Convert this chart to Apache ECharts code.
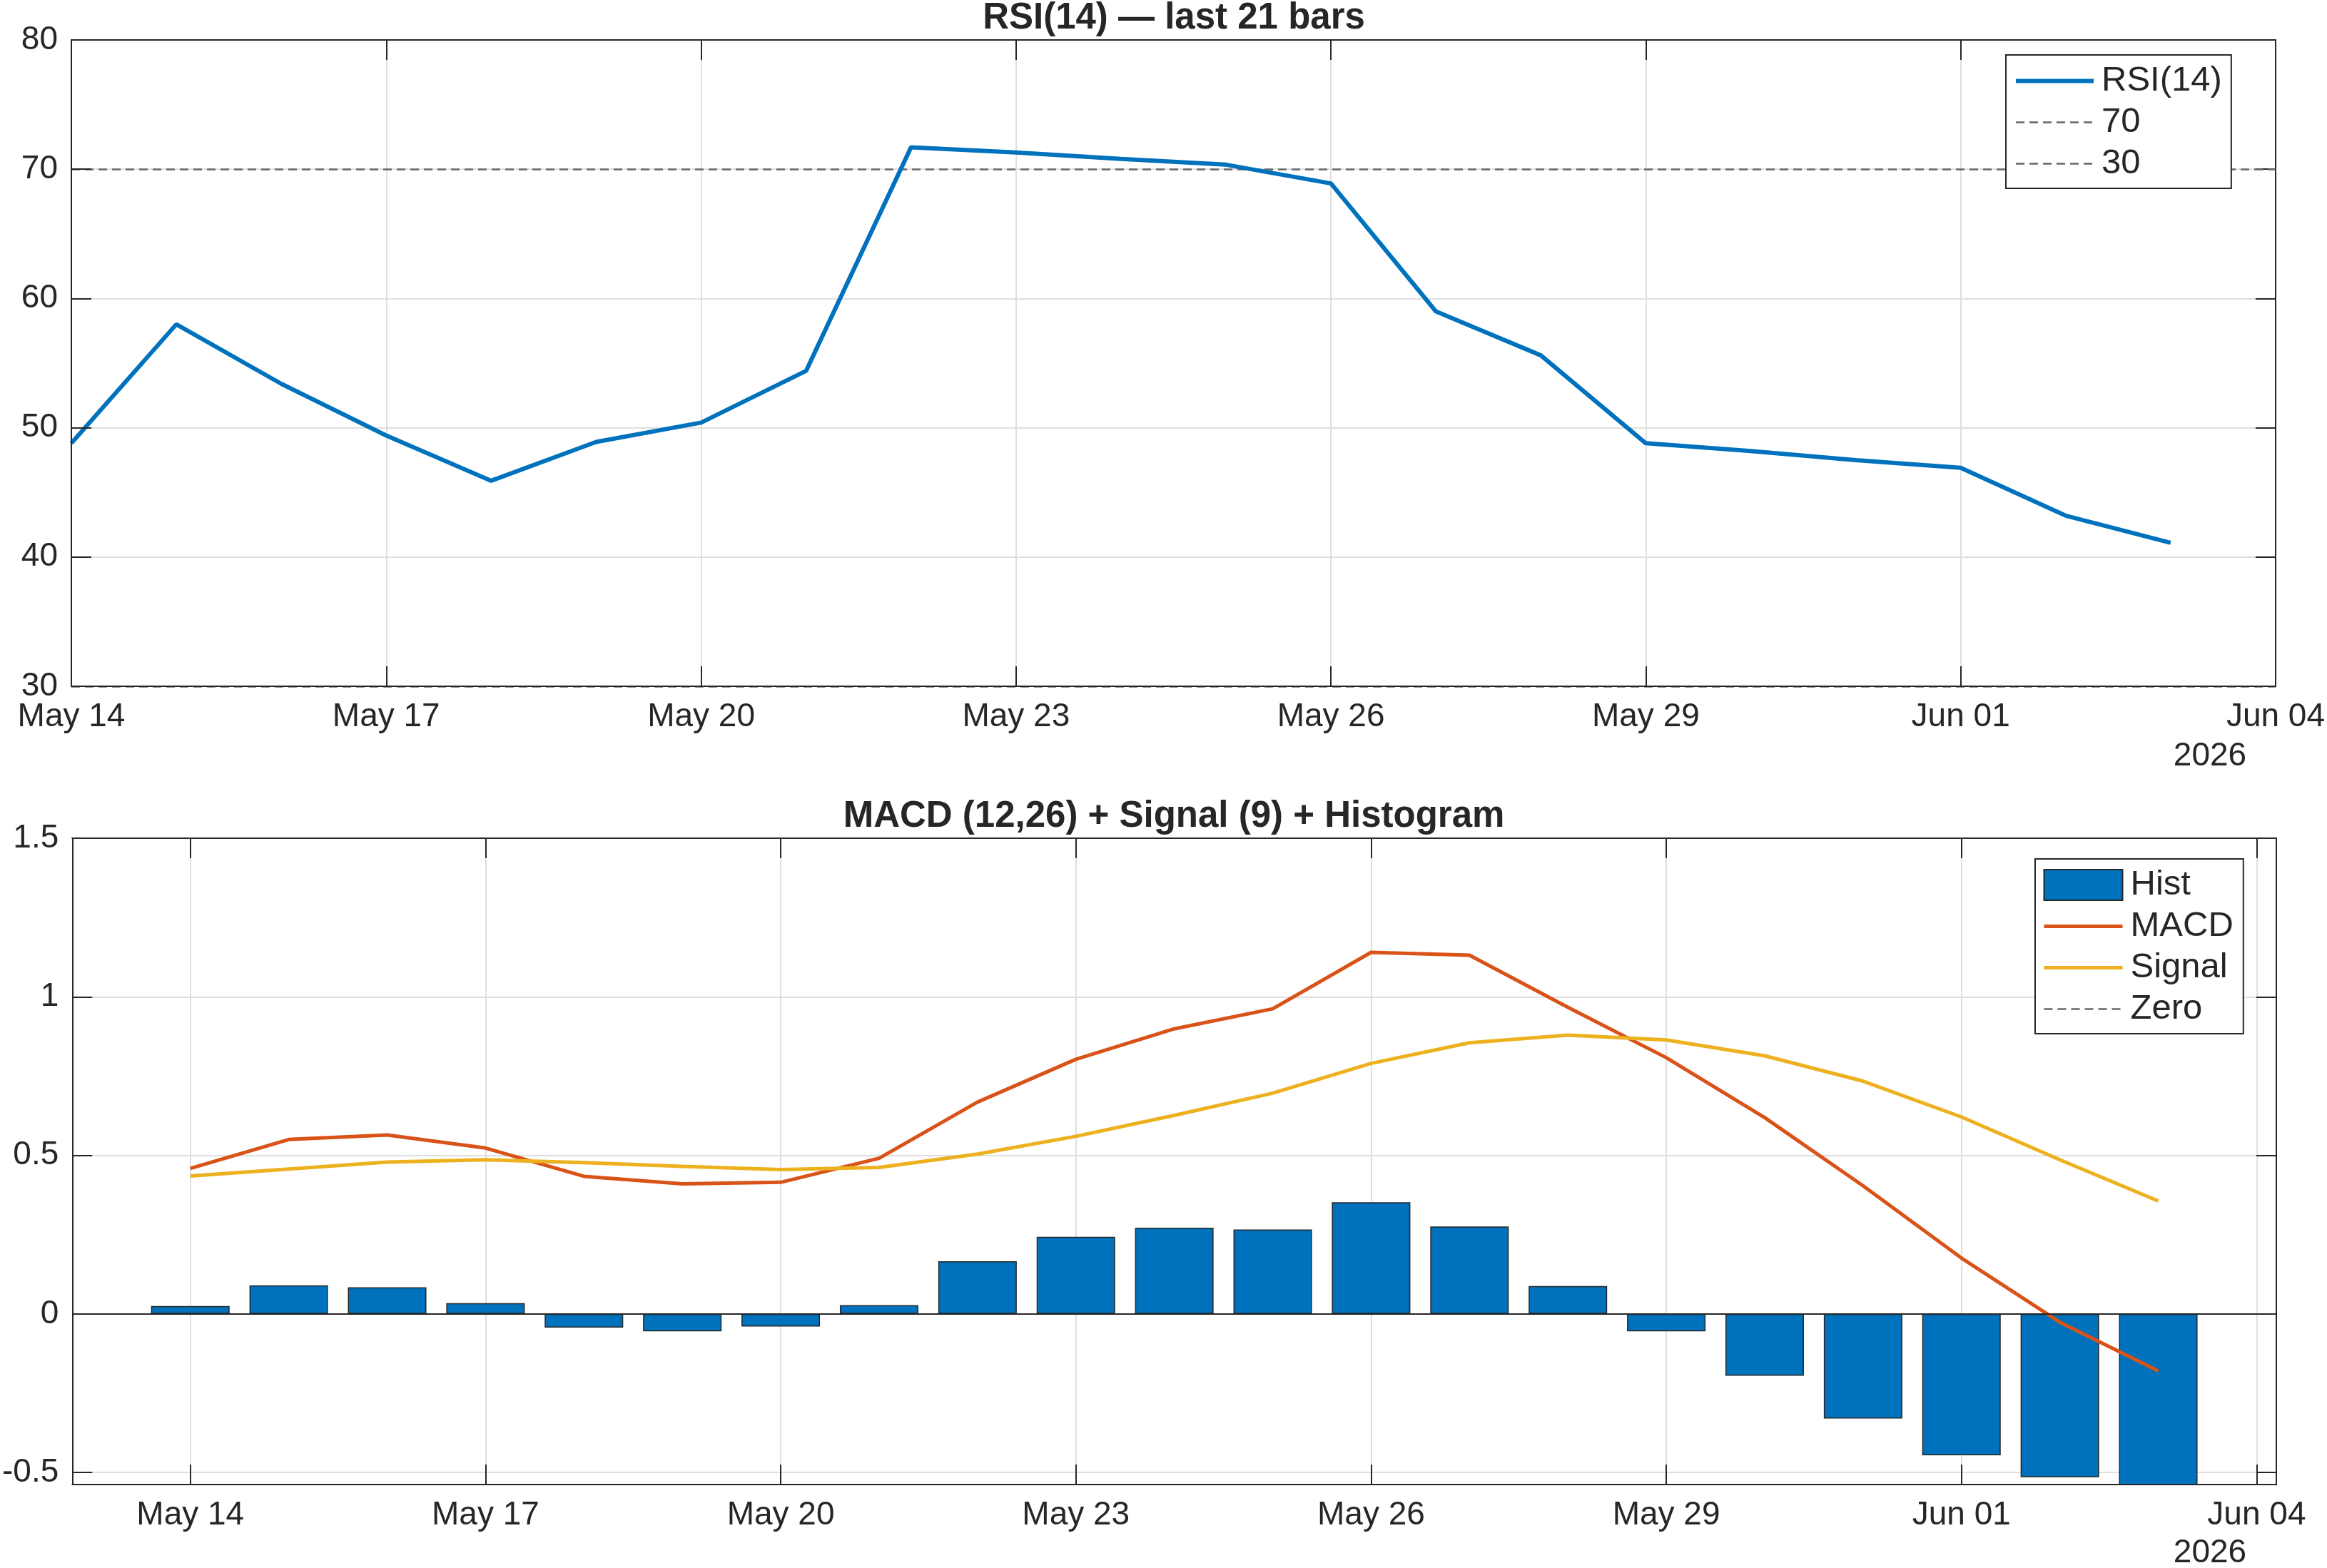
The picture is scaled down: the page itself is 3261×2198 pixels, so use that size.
<!DOCTYPE html>
<html>
<head>
<meta charset="utf-8">
<script src="https://cdn.jsdelivr.net/npm/echarts@6/dist/echarts.min.js"></script>
<style>
html, body { margin: 0; padding: 0; background: #fff; }
#chart { width: 3261px; height: 2198px; }
</style>
</head>
<body>
<div id="chart"></div>
<script>
// data (one bar per day, May 14 .. Jun 03 2026)
const dates = ['May 14', 'May 15', 'May 16', 'May 17', 'May 18', 'May 19', 'May 20',
  'May 21', 'May 22', 'May 23', 'May 24', 'May 25', 'May 26', 'May 27', 'May 28',
  'May 29', 'May 30', 'May 31', 'Jun 01', 'Jun 02', 'Jun 03'];
const rsi = [48.8, 58.0, 53.4, 49.4, 45.9, 48.9, 50.4, 54.4, 71.7, 71.3, 70.8,
  70.35, 68.9, 59.0, 55.6, 48.8, 48.2, 47.5, 46.9, 43.2, 41.1];
const rsiLevels = [70, 30];
const macd = [0.459, 0.550, 0.564, 0.523, 0.434, 0.410, 0.415, 0.491, 0.668, 0.803,
  0.899, 0.962, 1.140, 1.131, 0.967, 0.808, 0.619, 0.404, 0.176, -0.026, -0.180];
const signal = [0.435, 0.457, 0.479, 0.486, 0.477, 0.465, 0.455, 0.462, 0.504, 0.560,
  0.626, 0.696, 0.790, 0.855, 0.879, 0.864, 0.814, 0.734, 0.621, 0.486, 0.356];
const hist = [0.025, 0.090, 0.084, 0.034, -0.043, -0.055, -0.040, 0.028, 0.166, 0.243,
  0.272, 0.266, 0.352, 0.276, 0.088, -0.055, -0.195, -0.330, -0.446, -0.515, -0.545];
const zeroLevel = 0;
const xTickLabels = ['May 14', 'May 17', 'May 20', 'May 23', 'May 26', 'May 29', 'Jun 01', 'Jun 04'];
const yearLabel = '2026';

const FONT = '"Liberation Sans", Arial, Helvetica, sans-serif';
const INK = '#262626';
const GRID = '#dfdfdf';
const DASH = '#666666';
const DASH_TYPE = [12, 7];

function dayLabel(v) {
  const k = v / 3;
  if (Math.abs(k - Math.round(k)) > 1e-6) return '';
  return xTickLabels[Math.round(k)] || '';
}
function halfLabel(v) {
  const k = v / 0.5;
  if (Math.abs(k - Math.round(k)) > 1e-6) return '';
  return String(+v.toFixed(1));
}

let tick = { inside: true, length: 28, lineStyle: { color: INK, width: 2 } };
let label = { fontSize: 46, color: INK, fontFamily: FONT };
let line = { show: true, onZero: false, lineStyle: { color: INK, width: 2 } };

// axis with labels sits on top of the marks, like the matlab box
function mainAxis(extra, fmt, margin) {
  return Object.assign({
    type: 'value', z: 10,
    axisLine: line,
    axisTick: tick,
    axisLabel: Object.assign({ formatter: fmt, margin: margin }, label),
    splitLine: { show: false }
  }, extra);
}
// mirrored axis on top/right carries the ticks and the grid lines
function mirrorAxis(extra) {
  return Object.assign({
    type: 'value', z: 0,
    axisLine: line,
    axisTick: tick,
    axisLabel: { show: false },
    splitLine: { show: true, lineStyle: { color: GRID, width: 2 } }
  }, extra);
}

let topX = { gridIndex: 0, min: 0, max: 21, interval: 3 };
let topY = { gridIndex: 0, min: 30, max: 80, interval: 10 };
let botX = { gridIndex: 1, min: -1.2, max: 21.2, splitNumber: 7 };
let botY = { gridIndex: 1, min: -0.538, max: 1.5, splitNumber: 5 };

let legendBase = {
  orient: 'vertical',
  align: 'left',
  selectedMode: false,
  itemHeight: 43,
  borderColor: INK,
  borderWidth: 2,
  backgroundColor: '#fff',
  textStyle: { fontSize: 49, color: INK, fontFamily: FONT, lineHeight: 43, padding: [0, 0, 0, 6] }
};
function lineItem(name, width) {
  return { name: name, itemStyle: { opacity: 0 }, lineStyle: { width: width } };
}

let option = {
  animation: false,
  backgroundColor: '#fff',
  grid: [
    { left: 100, right: 71, top: 56, height: 906 },
    { left: 100, right: 71, top: 1175, height: 906 }
  ],
  xAxis: [
    mainAxis(topX, dayLabel, 20),
    mirrorAxis(Object.assign({ position: 'top' }, topX)),
    mainAxis(botX, dayLabel, 20),
    mirrorAxis(Object.assign({ position: 'top' }, botX))
  ],
  yAxis: [
    mainAxis(topY, null, 19),
    mirrorAxis(Object.assign({ position: 'right' }, topY)),
    mainAxis(botY, halfLabel, 19),
    mirrorAxis(Object.assign({ position: 'right' }, botY))
  ],
  legend: [
    Object.assign({}, legendBase, {
      data: [lineItem('RSI(14)', 6)].concat(rsiLevels.map(l => lineItem(String(l), 2.5))),
      left: 2811, top: 77, padding: [12, 13, 10, 11], itemWidth: 109, itemGap: 9
    }),
    Object.assign({}, legendBase, {
      data: [{ name: 'Hist', icon: 'rect' },
        lineItem('MACD', 5), lineItem('Signal', 5), lineItem('Zero', 2.5)],
      left: 2852, top: 1204, padding: [12, 14, 10, 10], itemWidth: 110, itemGap: 9
    })
  ],
  graphic: [
    { type: 'text', x: 1645, y: 26, style: { text: 'RSI(14) — last 21 bars', font: 'bold 51px ' + FONT, fill: INK, align: 'center', verticalAlign: 'middle' } },
    { type: 'text', x: 1645, y: 1145, style: { text: 'MACD (12,26) + Signal (9) + Histogram', font: 'bold 51px ' + FONT, fill: INK, align: 'center', verticalAlign: 'middle' } },
    { type: 'text', x: 3097, y: 1060, style: { text: yearLabel, font: '46px ' + FONT, fill: INK, align: 'center', verticalAlign: 'middle' } },
    { type: 'text', x: 3097, y: 2177, style: { text: yearLabel, font: '46px ' + FONT, fill: INK, align: 'center', verticalAlign: 'middle' } }
  ],
  series: []
};

option.series.push({
  name: 'RSI(14)', type: 'line', xAxisIndex: 0, yAxisIndex: 0,
  data: rsi.map((v, i) => [i, v]),
  symbol: 'none',
  itemStyle: { color: '#0072BD' },
  lineStyle: { color: '#0072BD', width: 6 }
});
rsiLevels.forEach(l => {
  option.series.push({
    name: String(l), type: 'line', xAxisIndex: 0, yAxisIndex: 0,
    data: [], symbol: 'none',
    itemStyle: { color: DASH },
    lineStyle: { color: DASH, width: 2.5, type: DASH_TYPE },
    markLine: {
      silent: true, symbol: 'none', label: { show: false }, z: 1,
      lineStyle: { color: DASH, width: 2.5, type: DASH_TYPE },
      data: [{ yAxis: l }]
    }
  });
});

option.series.push({
  name: 'Hist', type: 'bar', xAxisIndex: 2, yAxisIndex: 2,
  data: hist.map((v, i) => [i, v]),
  barWidth: 110,
  itemStyle: { color: '#0072BD', borderColor: INK, borderWidth: 1.5 },
  markLine: {
    silent: true, symbol: 'none', label: { show: false }, z: 10,
    lineStyle: { color: INK, width: 2, type: 'solid' },
    data: [{ yAxis: zeroLevel }]
  }
});
option.series.push({
  name: 'MACD', type: 'line', xAxisIndex: 2, yAxisIndex: 2,
  data: macd.map((v, i) => [i, v]), symbol: 'none',
  itemStyle: { color: '#D95319' },
  lineStyle: { color: '#D95319', width: 5 }
});
option.series.push({
  name: 'Signal', type: 'line', xAxisIndex: 2, yAxisIndex: 2,
  data: signal.map((v, i) => [i, v]), symbol: 'none',
  itemStyle: { color: '#EDB120' },
  lineStyle: { color: '#EDB120', width: 5 }
});
option.series.push({
  name: 'Zero', type: 'line', xAxisIndex: 2, yAxisIndex: 2,
  data: [], symbol: 'none', z: 1,
  itemStyle: { color: DASH },
  lineStyle: { color: DASH, width: 2.5, type: DASH_TYPE }
});

let myChart = echarts.init(document.getElementById('chart'));
myChart.setOption(option);
</script>
</body>
</html>
